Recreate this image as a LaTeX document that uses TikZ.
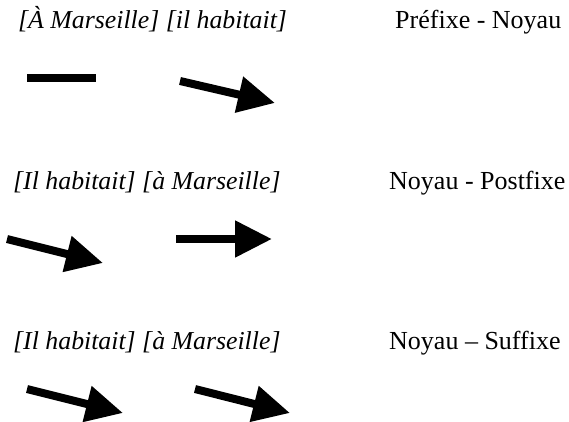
\documentclass[tikz,border=0pt]{standalone}
\usepackage{fontspec}
\setmainfont{Liberation Serif}
\usetikzlibrary{arrows.meta}
\begin{document}
\begin{tikzpicture}[x=1pt,y=-1pt,
  lbl/.style={anchor=base west,inner sep=0pt,font=\fontsize{26}{30}\selectfont},
  ex/.style={lbl,font=\fontsize{25.8}{30}\selectfont\itshape},
  arr/.style={line width=8pt,-{Triangle[length=37pt,width=35pt]}},
  bar/.style={line width=8pt}]
\useasboundingbox (0,0) rectangle (569,422);
% row 1
\node[ex] (e1) at (18,29) {[À Marseille] [il habitait]};
\node[lbl] (l1) at (395,29) {Préfixe - Noyau};
\coordinate (b1s) at (27,78);
\coordinate (b1e) at (96,78);
\draw[bar] (b1s) -- (b1e);
\coordinate (a1s) at (180,81);
\coordinate (a1e) at (275,103);
\draw[arr] (a1s) -- (a1e);
% row 2
\node[ex] (e2) at (13,189) {[Il habitait] [à Marseille]};
\node[lbl] (l2) at (389,189) {Noyau - Postfixe};
\coordinate (a2s) at (7,239);
\coordinate (a2e) at (103,263);
\draw[arr] (a2s) -- (a2e);
\coordinate (a3s) at (176,239);
\coordinate (a3e) at (272,239);
\draw[arr] (a3s) -- (a3e);
% row 3
\node[ex] (e3) at (13,349) {[Il habitait] [à Marseille]};
\node[lbl] (l3) at (389,349) {Noyau – Suffixe};
\coordinate (a4s) at (27,389);
\coordinate (a4e) at (123,413);
\draw[arr] (a4s) -- (a4e);
\coordinate (a5s) at (195,389);
\coordinate (a5e) at (290,413);
\draw[arr] (a5s) -- (a5e);
\end{tikzpicture}
\end{document}
